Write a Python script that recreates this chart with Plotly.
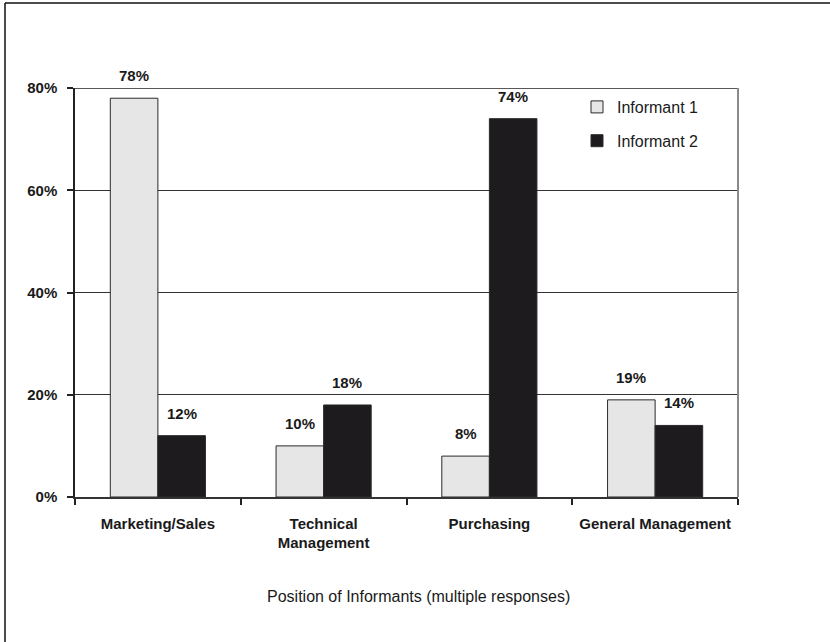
import plotly.graph_objects as go

# Survey results: position of informants (multiple responses)
categories = ["Marketing/Sales", "Technical Management", "Purchasing", "General Management"]
category_labels = ["Marketing/Sales", "Technical<br>Management", "Purchasing", "General Management"]
informant_1 = [78, 10, 8, 19]
informant_2 = [12, 18, 74, 14]
y_ticks = [0, 20, 40, 60, 80]
y_tick_labels = ["0%", "20%", "40%", "60%", "80%"]

W, H = 830, 642
M_L, M_R, M_T, M_B = 75, 92, 88, 145
BAR_W = 0.287
FONT = "Liberation Sans, Arial, sans-serif"
INK = "#1a1a1a"

LIGHT = "#e6e6e6"
DARK = "#1d1b1e"
EDGE = "#2a2a2a"

fig = go.Figure()
series = [("Informant 1", informant_1, LIGHT, -BAR_W), ("Informant 2", informant_2, DARK, 0.0)]
for name, vals, color, off in series:
    fig.add_trace(go.Bar(
        name=name, x=categories, y=vals, width=BAR_W, offset=off,
        marker=dict(color=color, line=dict(color=EDGE, width=1)),
        legendgroup=name,
    ))

# value labels centred above each bar
for name, vals, color, off in series:
    for i, v in enumerate(vals):
        fig.add_annotation(
            x=i + off + BAR_W / 2, y=v, xref="x", yref="y",
            text=f"<b>{v}%</b>", showarrow=False, yanchor="bottom", yshift=12,
            font=dict(family=FONT, size=15, color=INK),
        )

pw, ph = W - M_L - M_R, H - M_T - M_B
def px_x(p):
    return (p - M_L) / pw
def px_y(p):
    return (H - M_B - p) / ph

# axis title
fig.add_annotation(
    x=px_x(418), y=-0.27, xref="paper", yref="paper", text="Position of Informants (multiple responses)",
    showarrow=False, font=dict(family=FONT, size=16, color=INK),
)

shapes = [
    # top frame edge at the 80% level
    dict(type="line", xref="paper", yref="y", x0=0, x1=1, y0=y_ticks[-1], y1=y_ticks[-1],
         line=dict(color="#222", width=1.5)),
    # right frame edge of the plot area
    dict(type="line", xref="paper", yref="paper", x0=1, x1=1, y0=0, y1=1,
         line=dict(color="#8a8a8a", width=2)),
    # outer border of the figure
    dict(type="line", xref="paper", yref="paper", x0=px_x(5), x1=px_x(W), y0=px_y(3), y1=px_y(3),
         line=dict(color="#111", width=1.5)),
    dict(type="line", xref="paper", yref="paper", x0=px_x(5), x1=px_x(5), y0=px_y(3), y1=px_y(H),
         line=dict(color="#111", width=1.5)),
]

fig.update_layout(
    width=W, height=H,
    margin=dict(l=M_L, r=M_R, t=M_T, b=M_B),
    paper_bgcolor="white", plot_bgcolor="white",
    barmode="overlay",
    showlegend=True,
    legend=dict(x=px_x(577), y=px_y(90), xanchor="left", yanchor="top",
                font=dict(family=FONT, size=16, color=INK),
                bgcolor="rgba(0,0,0,0)", traceorder="grouped", tracegroupgap=10),
    shapes=shapes,
    font=dict(family=FONT, color=INK),
)
fig.update_xaxes(
    type="category", tickmode="array", tickvals=categories,
    ticktext=[f"<b>{t}</b>" for t in category_labels],
    tickson="boundaries", ticks="outside", ticklen=6, tickcolor="#222", tickwidth=1.5,
    showline=True, linecolor="#333", linewidth=1.5, showgrid=False,
    tickfont=dict(family=FONT, size=15, color=INK), ticklabelstandoff=12,
    range=[-0.5, 3.5],
)
fig.update_yaxes(
    range=[0, 80], tickmode="array", tickvals=y_ticks, ticktext=[f"<b>{t}</b>" for t in y_tick_labels],
    ticks="outside", ticklen=6, tickcolor="#222", tickwidth=1.5,
    showline=True, linecolor="#222", linewidth=1.5,
    showgrid=True, gridcolor="#333", gridwidth=1, zeroline=False,
    tickfont=dict(family=FONT, size=15, color=INK), ticklabelstandoff=7,
)

fig.write_html("out.html")
